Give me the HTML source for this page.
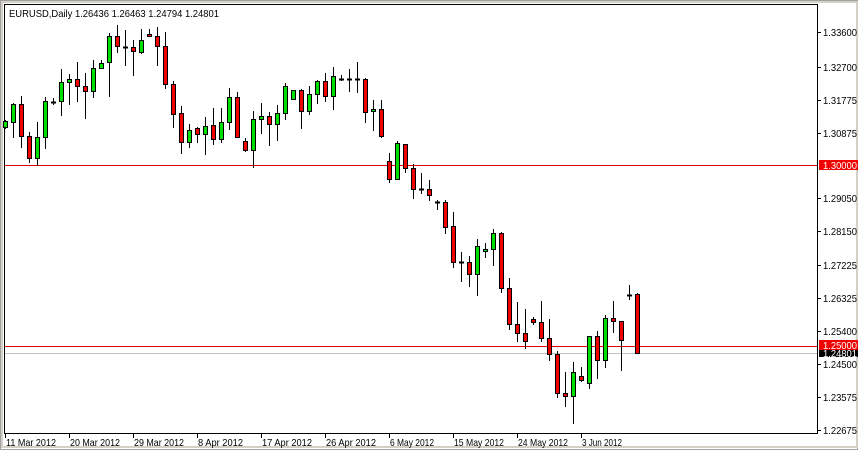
<!DOCTYPE html>
<html><head><meta charset="utf-8"><style>
html,body{margin:0;padding:0;background:#fff}
svg{display:block}
text{font-family:"Liberation Sans","DejaVu Sans",sans-serif;font-size:10.5px;fill:#000}
</style></head><body>
<svg id="s" width="859" height="453" xmlns="http://www.w3.org/2000/svg">
<rect x="0" y="0" width="859" height="453" fill="#fff"/>
<rect x="0.5" y="0.5" width="857" height="449" fill="none" stroke="#a0a0a0" stroke-width="1"/>
<rect x="2" y="2" width="855" height="445" fill="none" stroke="#d4d0c8" stroke-width="2"/>
<line x1="4.5" y1="4" x2="4.5" y2="434" stroke="#000"/>
<line x1="4" y1="4.5" x2="817" y2="4.5" stroke="#000"/>
<line x1="817.5" y1="4" x2="817.5" y2="434" stroke="#000"/>
<line x1="4" y1="433.5" x2="818" y2="433.5" stroke="#000"/>
<line x1="5" y1="165.5" x2="817" y2="165.5" stroke="#e00000"/>
<line x1="5" y1="346.5" x2="817" y2="346.5" stroke="#e00000"/>
<line x1="5" y1="353.5" x2="817" y2="353.5" stroke="#c0c0c0"/>
<text x="9" y="17" textLength="210" lengthAdjust="spacingAndGlyphs">EURUSD,Daily  1.26436 1.26463 1.24794 1.24801</text>
<g id="c"></g>
<g id="ax"></g>
</svg>
<script>
var d=[[5,'g',121,127,120,128],[13,'g',104,122,103,137],[21,'r',104,136,96,147],[29,'r',136,158,132,162],[37,'g',137,158,122,165],[45,'g',101,137,97,148],[53,'d',102,102,98,104],[61,'g',82,101,69,115],[69,'g',79,82,74,104],[77,'r',79,86,62,101],[85,'r',86,91,73,118],[93,'g',68,91,60,97],[101,'g',63,68,60,68],[109,'g',36,62,33,96],[117,'r',36,46,25,52],[125,'d',47,47,30,65],[133,'r',47,51,40,75],[141,'g',40,52,29,53],[149,'r',34,36,29,36],[157,'r',36,46,27,65],[165,'r',46,84,32,88],[173,'r',84,114,81,127],[181,'r',113,142,106,153],[189,'g',130,142,124,147],[197,'r',128,134,127,142],[205,'g',126,134,117,154],[213,'r',125,139,108,144],[221,'g',122,139,108,142],[229,'g',97,122,88,129],[237,'r',97,137,92,137],[245,'r',141,150,138,151],[253,'g',119,150,111,167],[261,'g',116,119,103,133],[269,'r',116,124,112,145],[277,'g',113,124,105,140],[285,'g',86,113,83,119],[293,'g',90,99,90,99],[301,'r',90,111,89,128],[309,'g',94,111,86,114],[317,'g',81,94,80,103],[325,'r',81,96,73,101],[333,'g',76,96,67,109],[341,'d',79,79,75,80],[349,'d',79,79,69,91],[357,'d',79,79,62,92],[365,'r',79,112,78,122],[373,'g',109,111,100,130],[381,'r',109,136,100,137],[389,'r',161,179,153,182],[397,'g',143,179,141,179],[405,'r',144,168,144,172],[413,'r',168,189,164,198],[421,'d',189,189,173,193],[429,'r',189,195,180,200],[437,'d',202,202,200,209],[445,'r',202,227,200,233],[453,'r',226,262,212,267],[461,'d',262,262,252,281],[469,'r',262,274,256,286],[477,'g',246,274,239,295],[485,'g',249,251,243,257],[493,'g',233,249,229,265],[501,'r',233,288,232,292],[509,'r',288,324,278,329],[517,'r',324,333,302,341],[525,'r',333,341,309,348],[533,'r',319,322,317,324],[541,'r',322,338,301,341],[549,'r',338,354,319,360],[557,'r',354,393,351,397],[565,'r',393,396,372,406],[573,'g',372,396,362,423],[581,'r',376,380,367,381],[589,'g',336,383,336,388],[597,'r',336,360,331,378],[605,'g',318,360,315,367],[613,'r',318,321,301,332],[621,'r',321,340,321,370],[629,'d',295,295,285,299],[637,'r',294,353,293,353]];
var h='';
d.forEach(function(c){var x=c[0];
h+='<line x1="'+(x+.5)+'" y1="'+c[4]+'" x2="'+(x+.5)+'" y2="'+(c[5]+1)+'" stroke="#000"/>';
if(c[1]=='d'){h+='<line x1="'+(x-2)+'" y1="'+(c[2]+.5)+'" x2="'+(x+3)+'" y2="'+(c[2]+.5)+'" stroke="#000" stroke-width="2"/>';}
else{h+='<rect x="'+(x-1.5)+'" y="'+(c[2]+.5)+'" width="4" height="'+Math.max(c[3]-c[2],2)+'" fill="'+(c[1]=='g'?'#00e000':'#f00000')+'" stroke="#000"/>';}
});
document.getElementById('c').innerHTML=h;
var a='';
[[32,'1.33600'],[67,'1.32700'],[100,'1.31775'],[133,'1.30875'],[198,'1.29050'],[231,'1.28150'],[265,'1.27225'],[298,'1.26325'],[331,'1.25400'],[364,'1.24500'],[397,'1.23575'],[430,'1.22675']].forEach(function(t){
a+='<line x1="818" y1="'+(t[0]+.5)+'" x2="821" y2="'+(t[0]+.5)+'" stroke="#000"/><text x="823" y="'+(t[0]+4)+'" textLength="34" lengthAdjust="spacingAndGlyphs">'+t[1]+'</text>';});
a+='<rect x="819" y="160" width="39" height="10" fill="#f00000"/><text x="823" y="169" textLength="34" lengthAdjust="spacingAndGlyphs" style="fill:#fff">1.30000</text>';
a+='<rect x="819" y="349" width="39" height="8" fill="#000"/><text x="823" y="357" textLength="34" lengthAdjust="spacingAndGlyphs" style="fill:#fff">1.24801</text>';
a+='<rect x="819" y="340" width="39" height="10" fill="#f00000"/><text x="823" y="349" textLength="34" lengthAdjust="spacingAndGlyphs" style="fill:#fff">1.25000</text>';
var L=[50,50,50,45,50,50,44,50,50,40];
['11 Mar 2012','20 Mar 2012','29 Mar 2012','8 Apr 2012','17 Apr 2012','26 Apr 2012','6 May 2012','15 May 2012','24 May 2012','3 Jun 2012'].forEach(function(s,i){var x=5+64*i;
a+='<line x1="'+(x+.5)+'" y1="434" x2="'+(x+.5)+'" y2="438" stroke="#000"/><text x="'+(x+1)+'" y="446" textLength="'+L[i]+'" lengthAdjust="spacingAndGlyphs">'+s+'</text>';});
document.getElementById('ax').innerHTML=a;
</script>
</body></html>
